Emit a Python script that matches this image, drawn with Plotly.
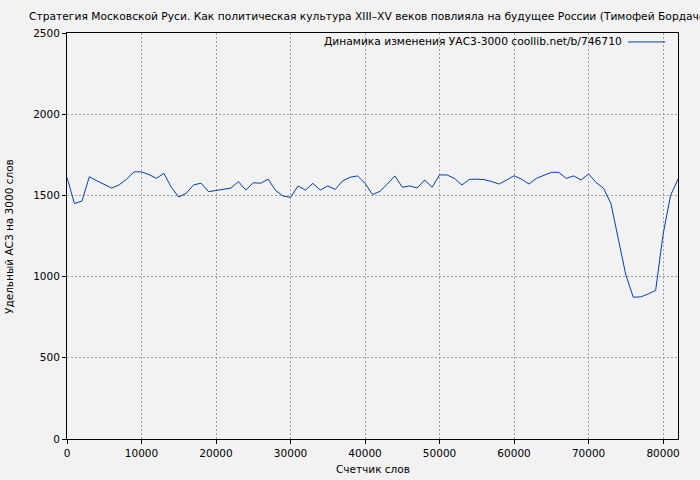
import plotly.graph_objects as go

# word counter positions and the УАСЗ-3000 values
words = list(range(0, 83000, 1000))
uasz = [
    1610, 1450, 1465, 1615, 1590, 1568, 1545, 1565, 1600, 1645,
    1645, 1628, 1605, 1636, 1550, 1490, 1513, 1565, 1575, 1523,
    1530, 1535, 1545, 1585, 1533, 1578, 1575, 1600, 1530, 1496,
    1488, 1558, 1533, 1574, 1533, 1558, 1537, 1590, 1612, 1620,
    1574, 1505, 1525, 1570, 1620, 1550, 1558, 1546, 1595, 1550,
    1626, 1626, 1605, 1564, 1599, 1600, 1597, 1585, 1570, 1595,
    1621, 1600, 1570, 1605, 1626, 1642, 1642, 1605, 1620, 1595,
    1632, 1580, 1544, 1450, 1230, 1010, 873, 875, 893, 915,
    1260, 1500, 1600,
]

title = ("Стратегия Московской Руси. Как политическая культура XIII–XV веков "
         "повлияла на будущее России (Тимофей Бордачёв)")
series_name = "Динамика изменения УАС3-3000 coollib.net/b/746710"
x_label = "Счетчик слов"
y_label = "Удельный АСЗ на 3000 слов"
x_ticks = list(range(0, 90000, 10000))
y_ticks = list(range(0, 3000, 500))

FONT = "DejaVu Sans"
BG = "#f2f2f2"
LINE = "#003fb8"
TXT = dict(family=FONT, size=10.5, color="black")
BIG = dict(family=FONT, size=10.7, color="black")

fig = go.Figure()
fig.add_trace(go.Scatter(
    x=words, y=uasz, mode="lines", name=series_name,
    line=dict(color=LINE, width=1), showlegend=False,
))

axis_common = dict(
    showline=True, linecolor="black", linewidth=1, mirror=True,
    ticks="outside", ticklen=4, tickcolor="black", automargin=False,
    showgrid=True, gridcolor="#a0a0a0", griddash="2px,2px", gridwidth=1,
    zeroline=False, tickfont=TXT,
)

fig.update_layout(
    width=700, height=480,
    paper_bgcolor=BG, plot_bgcolor=BG,
    font=TXT,
    margin=dict(l=67, r=22, t=33, b=41),
    title=dict(text=title, x=29 / 700, xanchor="left", xref="container",
               y=1 - 16 / 480, yanchor="middle", yref="container", automargin=False,
               font=BIG),
    xaxis=dict(range=[0, 82000], tickvals=x_ticks,
               ticktext=[str(v) for v in x_ticks], **axis_common),
    yaxis=dict(range=[0, 2500], tickvals=y_ticks,
               ticktext=[str(v) for v in y_ticks], **axis_common),
)

# axis titles placed like gnuplot does
fig.add_annotation(text=x_label, xref="paper", yref="paper", x=0.5, y=-0.074,
                   xanchor="center", yanchor="middle", showarrow=False, font=TXT)
fig.add_annotation(text=y_label, xref="paper", yref="paper", x=-0.095, y=0.5,
                   xanchor="center", yanchor="middle", textangle=-90,
                   showarrow=False, font=TXT)

# legend drawn gnuplot-style: text first, sample line to its right
fig.add_annotation(
    text=series_name, xref="paper", yref="paper", x=0.9116, y=0.978,
    xanchor="right", yanchor="middle", showarrow=False, font=BIG,
)
fig.add_shape(type="line", xref="paper", yref="paper",
              x0=0.918, x1=0.979, y0=0.978, y1=0.978,
              line=dict(color=LINE, width=1))

fig.write_html("out.html", config={"displayModeBar": False},
               post_script="document.body.style.margin='0';")
